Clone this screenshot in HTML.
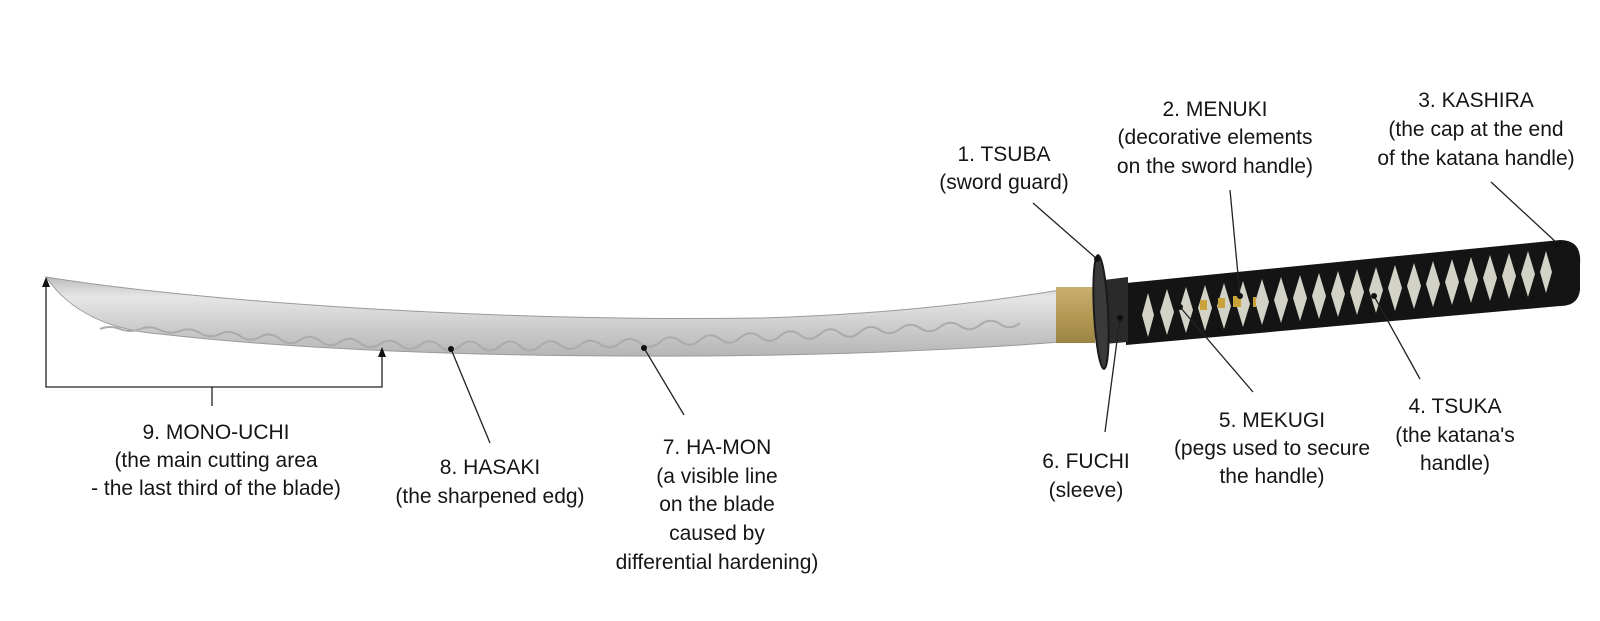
<!DOCTYPE html>
<html><head><meta charset="utf-8"><style>
html,body{margin:0;padding:0;background:#fff;}
svg{display:block;}
text{font-family:"Liberation Sans",Arial,sans-serif;font-size:21px;fill:#151515;text-anchor:middle;}
</style></head><body>
<svg width="1600" height="621" viewBox="0 0 1600 621" xmlns="http://www.w3.org/2000/svg">
<defs>
<linearGradient id="bl" x1="0" y1="0" x2="0" y2="1">
<stop offset="0" stop-color="#bdbdbd"/><stop offset="0.25" stop-color="#e6e6e6"/><stop offset="0.55" stop-color="#d2d2d2"/><stop offset="1" stop-color="#b5b5b5"/>
</linearGradient>
<linearGradient id="gd" x1="0" y1="0" x2="0" y2="1">
<stop offset="0" stop-color="#c9b070"/><stop offset="0.5" stop-color="#b39a55"/><stop offset="1" stop-color="#9c8444"/>
</linearGradient>
</defs>
<!-- blade -->
<path d="M46,277 C200,302 500,322 760,318 C900,314 1000,300 1060,290 L1060,342 C960,350 800,357 640,356 C480,356 300,350 160,334 C110,330 70,312 46,277 Z" fill="url(#bl)" stroke="#9a9a9a" stroke-width="1"/>
<g transform="translate(0,7)">
<path d="M100,322 q10,-4 20,0 t20,0 t20,1 t20,1 t20,2 t20,1 t20,2 t20,1 t20,2 t20,1 t20,1 t20,1 t20,1 t20,1 t20,1 t20,0 t20,1 t20,0 t20,0 t20,0 t20,0 t20,0 t20,-1 t20,0 t20,-1 t20,-1 t20,0 t20,-1 t20,-1 t20,-1 t20,-1 t20,-1 t20,-1 t20,-1 t20,-1 t20,-1 t20,-1 t20,-1 t20,-2 t20,-1 t20,-1 t20,-1 t20,-1 t20,-1 t20,-1 t20,-1" fill="none" stroke="#ababab" stroke-width="2"/>
</g>
<!-- habaki -->
<rect x="1056" y="287" width="39" height="56" fill="url(#gd)"/>
<!-- handle -->
<path d="M1126,283 L1560,240 Q1582,240 1580,264 L1580,290 Q1578,306 1560,306 L1126,345 Z" fill="#141414"/>
<g fill="#d3d2c6">
<path d="M1142,315 l6,-22 l6,22 l-6,22 z"/>
<path d="M1160,312 l7,-23 l7,23 l-7,23 z"/>
<path d="M1179,310 l7,-23 l7,23 l-7,23 z"/>
<path d="M1198,308 l7,-23 l7,23 l-7,23 z"/>
<path d="M1217,306 l7,-23 l7,23 l-7,23 z"/>
<path d="M1236,304 l7,-23 l7,23 l-7,23 z"/>
<path d="M1255,302 l7,-23 l7,23 l-7,23 z"/>
<path d="M1274,300 l7,-23 l7,23 l-7,23 z"/>
<path d="M1293,298 l7,-23 l7,23 l-7,23 z"/>
<path d="M1312,296 l7,-23 l7,23 l-7,23 z"/>
<path d="M1331,294 l7,-23 l7,23 l-7,23 z"/>
<path d="M1350,292 l7,-23 l7,23 l-7,23 z"/>
<path d="M1369,290 l7,-23 l7,23 l-7,23 z"/>
<path d="M1388,288 l7,-23 l7,23 l-7,23 z"/>
<path d="M1407,286 l7,-23 l7,23 l-7,23 z"/>
<path d="M1426,284 l7,-23 l7,23 l-7,23 z"/>
<path d="M1445,282 l7,-23 l7,23 l-7,23 z"/>
<path d="M1464,280 l7,-23 l7,23 l-7,23 z"/>
<path d="M1483,278 l7,-23 l7,23 l-7,23 z"/>
<path d="M1502,276 l7,-23 l7,23 l-7,23 z"/>
<path d="M1521,274 l7,-23 l7,23 l-7,23 z"/>
<path d="M1540,272 l6,-21 l6,21 l-6,21 z"/>
</g>
<g fill="#c9a23a"><rect x="1200" y="300" width="7" height="10"/><rect x="1218" y="298" width="7" height="10"/><rect x="1233" y="296" width="8" height="11"/><rect x="1253" y="297" width="3" height="10"/></g>
<!-- fuchi -->
<path d="M1104,280 L1128,277 L1128,342 L1104,344 Z" fill="#2a2a2a"/>
<!-- tsuba -->
<ellipse cx="1101" cy="312" rx="7" ry="57" fill="#3a3a3a" stroke="#1a1a1a" stroke-width="2" transform="rotate(-3 1101 312)"/>
<!-- leaders -->
<g stroke="#222" stroke-width="1.3" fill="none">
<line x1="1033" y1="203" x2="1097" y2="259"/>
<line x1="1230" y1="190" x2="1240" y2="296"/>
<line x1="1491" y1="182" x2="1558" y2="244"/>
<line x1="1374" y1="296" x2="1420" y2="379"/>
<line x1="1180" y1="307" x2="1253" y2="392"/>
<line x1="1120" y1="318" x2="1105" y2="432"/>
<line x1="451" y1="349" x2="490" y2="443"/>
<line x1="644" y1="348" x2="684" y2="415"/>
<polyline points="46,284 46,387 382,387 382,356"/>
<line x1="212" y1="387" x2="212" y2="406"/>
</g>
<g fill="#111">
<circle cx="1240" cy="296" r="3"/><circle cx="1374" cy="296" r="3"/><circle cx="1180" cy="307" r="3"/><circle cx="1120" cy="318" r="3"/><circle cx="1097" cy="259" r="3"/><circle cx="1558" cy="244" r="3"/>
<circle cx="451" cy="349" r="3"/><circle cx="644" cy="348" r="3"/>
<path d="M46,277 l-4,10 h8 z"/><path d="M382,347 l-4,10 h8 z"/>
</g>
<!-- labels -->
<text x="1004" y="161">1. TSUBA</text><text x="1004" y="189">(sword guard)</text>
<text x="1215" y="116">2. MENUKI</text><text x="1215" y="144">(decorative elements</text><text x="1215" y="173">on the sword handle)</text>
<text x="1476" y="107">3. KASHIRA</text><text x="1476" y="136">(the cap at the end</text><text x="1476" y="165">of the katana handle)</text>
<text x="1455" y="413">4. TSUKA</text><text x="1455" y="442">(the katana's</text><text x="1455" y="470">handle)</text>
<text x="1272" y="427">5. MEKUGI</text><text x="1272" y="455">(pegs used to secure</text><text x="1272" y="483">the handle)</text>
<text x="1086" y="468">6. FUCHI</text><text x="1086" y="497">(sleeve)</text>
<text x="717" y="454">7. HA-MON</text><text x="717" y="483">(a visible line</text><text x="717" y="511">on the blade</text><text x="717" y="540">caused by</text><text x="717" y="569">differential hardening)</text>
<text x="490" y="474">8. HASAKI</text><text x="490" y="503">(the sharpened edg)</text>
<text x="216" y="439">9. MONO-UCHI</text><text x="216" y="467">(the main cutting area</text><text x="216" y="495">- the last third of the blade)</text>
</svg>
</body></html>
